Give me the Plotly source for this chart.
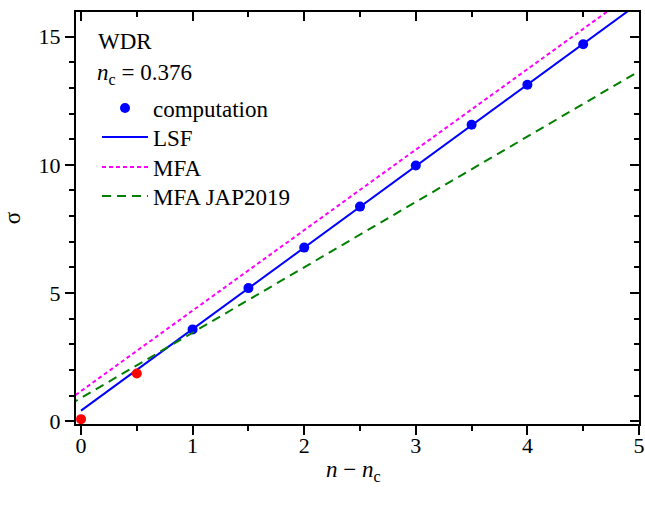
import plotly.graph_objects as go

# Computed surface tension sigma versus n - n_c (WDR, n_c = 0.376)
comp_x = [1.0, 1.5, 2.0, 2.5, 3.0, 3.5, 4.0, 4.5]
comp_y = [3.58, 5.19, 6.77, 8.37, 9.97, 11.56, 13.12, 14.70]

# points excluded from the fit
excl_x = [0.0, 0.5]
excl_y = [0.08, 1.86]

# least-squares fit line
lsf_x = [0.0, 1.0, 2.0, 3.0, 4.0, 5.0]
lsf_y = [0.41, 3.59, 6.77, 9.95, 13.13, 16.31]

# mean-field approximation
mfa_x = [-0.1, 1.0, 2.0, 3.0, 4.0, 5.0]
mfa_y = [0.86, 4.31, 7.45, 10.59, 13.73, 16.87]

# mean-field approximation, JAP 2019
jap_x = [-0.1, 1.0, 2.0, 3.0, 4.0, 5.0]
jap_y = [0.65, 3.45, 6.00, 8.55, 11.10, 13.65]

FONT = "Liberation Serif"
BLACK = "#000000"
H = 510
PLOT_TOP, PLOT_H = 12, 412


def py(pixel_y):
    """Paper y for a pixel row measured from the top of the figure."""
    return 1 - (pixel_y - PLOT_TOP) / PLOT_H


fig = go.Figure()

fig.add_trace(go.Scatter(
    x=comp_x, y=comp_y, mode="markers", name="computation", legend="legend",
    marker=dict(color="#0000FF", size=10, line=dict(width=0)),
))
fig.add_trace(go.Scatter(
    x=lsf_x, y=lsf_y, mode="lines", name="LSF", legend="legend2",
    line=dict(color="#0000FF", width=2),
))
fig.add_trace(go.Scatter(
    x=mfa_x, y=mfa_y, mode="lines", name="MFA", legend="legend3",
    line=dict(color="#FF00FF", width=2, dash="4px,3px"),
))
fig.add_trace(go.Scatter(
    x=jap_x, y=jap_y, mode="lines", name="MFA JAP2019", legend="legend4",
    line=dict(color="#008000", width=2, dash="9px,6px"),
))
fig.add_trace(go.Scatter(
    x=excl_x, y=excl_y, mode="markers", showlegend=False,
    marker=dict(color="#FF0000", size=10, line=dict(width=0)),
))
# empty trace that carries the top/right frame axes
fig.add_trace(go.Scatter(
    x=[None], y=[None], xaxis="x2", yaxis="y2", showlegend=False,
    hoverinfo="skip",
))

XR = [-0.045, 5.0]
YR = [-0.11, 15.96]

axis_common = dict(
    showline=True, linecolor=BLACK, linewidth=2, showgrid=False,
    zeroline=False, tickcolor=BLACK, tickwidth=1.5, ticklen=9,
    automargin=False,
    tickfont=dict(family=FONT, size=22, color=BLACK),
)


def legend_box(row_y):
    return dict(
        x=(97 - 76) / 563, xref="paper", xanchor="left",
        y=py(row_y), yanchor="middle",
        bgcolor="rgba(0,0,0,0)", borderwidth=0,
        font=dict(family=FONT, size=23, color=BLACK),
        itemwidth=46,
    )


fig.update_layout(
    width=645, height=H,
    margin=dict(l=76, r=6, t=PLOT_TOP, b=H - PLOT_TOP - PLOT_H),
    paper_bgcolor="white", plot_bgcolor="white",
    font=dict(family=FONT, size=22, color=BLACK),
    xaxis=dict(
        range=XR, ticks="outside", dtick=1, tick0=0, ticklabelstandoff=-8,
        minor=dict(dtick=0.5, tick0=0, ticks="outside", ticklen=5,
                   tickcolor=BLACK, tickwidth=1.5, showgrid=False),
        **axis_common,
    ),
    yaxis=dict(
        range=YR, ticks="outside", dtick=5, tick0=0,
        minor=dict(dtick=1, tick0=0, ticks="outside", ticklen=5,
                   tickcolor=BLACK, tickwidth=1.5, showgrid=False),
        title=dict(text="σ", font=dict(family=FONT, size=23, color=BLACK),
                   standoff=22),
        **axis_common,
    ),
    xaxis2=dict(
        range=XR, overlaying="x", side="top", anchor="y2",
        ticks="inside", dtick=1, tick0=0, showticklabels=False,
        minor=dict(dtick=0.5, tick0=0, ticks="inside", ticklen=5,
                   tickcolor=BLACK, tickwidth=1.5, showgrid=False),
        **axis_common,
    ),
    yaxis2=dict(
        range=YR, overlaying="y", side="right", anchor="x2",
        ticks="inside", dtick=5, tick0=0, showticklabels=False,
        minor=dict(dtick=1, tick0=0, ticks="inside", ticklen=5,
                   tickcolor=BLACK, tickwidth=1.5, showgrid=False),
        **axis_common,
    ),
    legend=legend_box(108),
    legend2=legend_box(137),
    legend3=legend_box(167),
    legend4=legend_box(196),
    annotations=[
        dict(text="WDR", xref="paper", yref="paper",
             x=(96 - 76) / 563, y=py(42),
             xanchor="left", yanchor="middle", showarrow=False,
             font=dict(family=FONT, size=23, color=BLACK)),
        dict(text="<i>n</i><sub>c</sub> = 0.376", xref="paper", yref="paper",
             x=(95 - 76) / 563, y=py(74),
             xanchor="left", yanchor="middle", showarrow=False,
             font=dict(family=FONT, size=23, color=BLACK)),
        # x-axis title
        dict(text="<i>n</i> − <i>n</i><sub>c</sub>", xref="paper", yref="paper",
             x=(353 - 76) / 563, y=py(471), xanchor="center", yanchor="middle",
             showarrow=False, font=dict(family=FONT, size=23, color=BLACK)),
    ],
    showlegend=True,
)

fig.write_html("out.html")
